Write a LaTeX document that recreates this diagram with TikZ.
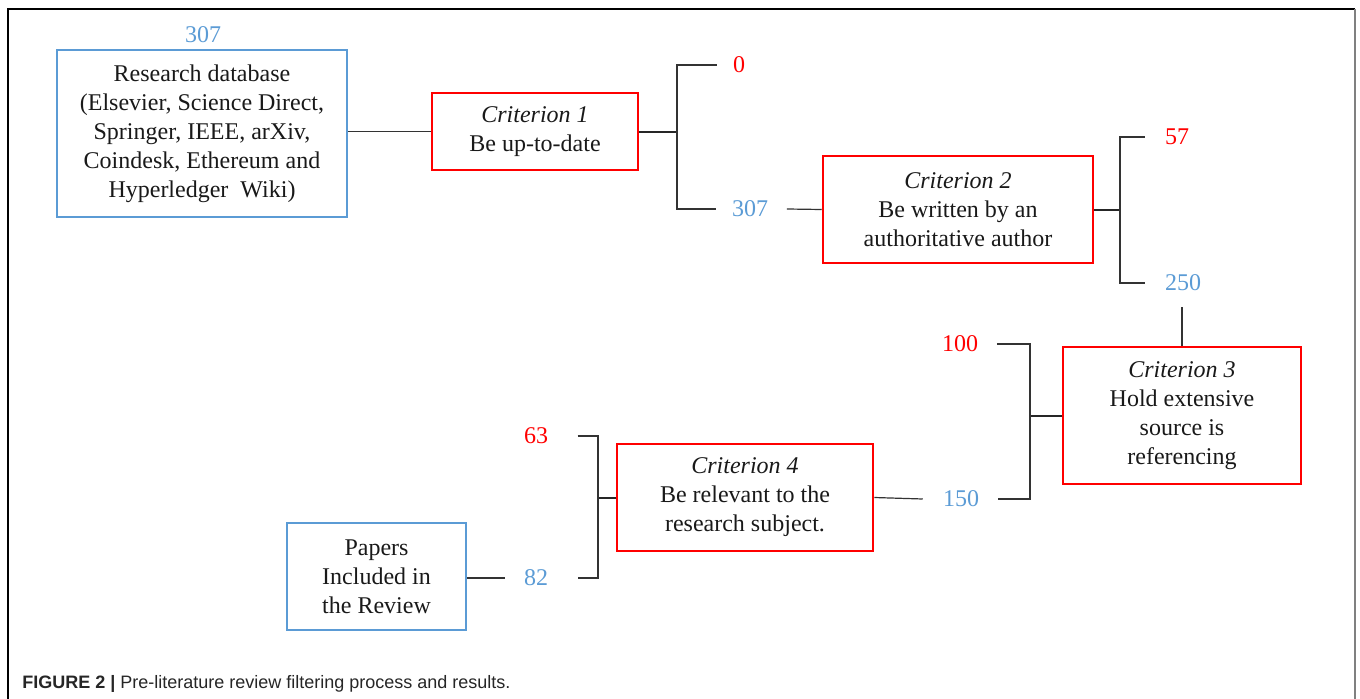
\documentclass[tikz,border=0pt]{standalone}
\usepackage{fontspec}
\setmainfont{Liberation Serif}
\newfontfamily\capfont{Liberation Sans}
\usetikzlibrary{calc}
\definecolor{cblue}{RGB}{91,155,213}
\definecolor{cred}{RGB}{255,0,0}
\newcommand\mainfs{\fontsize{18}{21.75}\selectfont}
\tikzset{
 box/.style={draw, line width=1.9pt, inner sep=0pt, align=center, font=\mainfs, text=black!90},
 bluebox/.style={box, draw=cblue},
 redbox/.style={box, draw=cred},
 num/.style={inner sep=0pt, font=\mainfs},
 keep/.style={num, text=cblue},
 drop/.style={num, text=cred},
 conn/.style={line width=0.9pt, draw=black!80},
 stub/.style={line width=1.5pt, draw=black!85},
}
\begin{document}
\begin{tikzpicture}[x=0.75pt,y=-0.75pt]
\useasboundingbox (0,0) rectangle (1360,699);
% frame
\draw[line width=0.8pt, black] (8,699) -- (8,9) -- (1355,9);
\draw[line width=1.5pt, black!50] (1355,9) -- (1355,699);

% boxes
\node[bluebox, minimum width=217.5pt, minimum height=125.25pt] (db) at (202,133.5)
 {Research database\\(Elsevier, Science Direct,\\Springer, IEEE, arXiv,\\Coindesk, Ethereum and\\Hyperledger\ \ Wiki)};
\node[redbox, minimum width=154.5pt, minimum height=57.75pt] (c1) at (535,131.5)
 {\textit{Criterion 1}\\Be up-to-date};
\node[redbox, minimum width=202.5pt, minimum height=80.25pt] (c2) at (958,209.5)
 {\textit{Criterion 2}\\Be written by\ an\\authoritative author};
\node[redbox, minimum width=178.5pt, minimum height=102.75pt] (c3) at (1182,415.5)
 {\textit{Criterion 3}\\Hold extensive\\source is\\referencing};
\node[redbox, minimum width=192pt, minimum height=80.25pt] (c4) at (745,497.5)
 {\textit{Criterion 4}\\Be relevant\ to the\\research\ subject.};
\node[bluebox, minimum width=134.25pt, minimum height=80.25pt] (pap) at (376.5,576.5)
 {Papers\\Included in\\the Review};

% numbers
\node[keep] (n307a) at (203,35) {307};
\node[drop] (n0) at (739,65) {0};
\node[keep] (n307b) at (750,209) {307};
\node[drop] (n57) at (1177,137) {57};
\node[keep] (n250) at (1183,283) {250};
\node[drop] (n100) at (960,344) {100};
\node[keep] (n150) at (961,499) {150};
\node[drop] (n63) at (536,436) {63};
\node[keep] (n82) at (536,578) {82};

% junctions
\coordinate (j1) at (677,131.5);
\coordinate (j2) at (1120,209.5);
\coordinate (j3) at (1030,415.5);
\coordinate (j4) at (598,497.5);

% connectors
\draw[conn] (db.east |- c1.west) -- (c1.west);
\draw[stub] (c1.east) -- (j1);
\draw[conn] ([xshift=-12pt]n0.west) -| (j1) |- ([xshift=-12pt]n307b.west);
\draw[conn] ([xshift=14pt]n307b.east) -- (c2.west);
\draw[stub] (c2.east) -- (j2);
\draw[conn] ([xshift=-15pt]n57.west) -| (j2) |- ([xshift=-15pt]n250.west);
\draw[conn] ([yshift=-12pt]n250.south -| c3.north) -- (c3.north);
\draw[stub] (c3.west) -- (j3);
\draw[conn] ([xshift=14pt]n100.east) -| (j3) |- ([xshift=14pt]n150.east);
\draw[conn] (c4.east) -- ([xshift=-15pt]n150.west);
\draw[stub] (c4.west) -- (j4);
\draw[conn] ([xshift=22pt]n63.east) -| (j4) |- ([xshift=22pt]n82.east);
\draw[conn] (pap.east |- n82.west) -- ([xshift=-14pt]n82.west);

% caption
\node[anchor=base west, inner sep=0pt, font=\capfont\fontsize{13.5}{15}\selectfont, text=black!85] (cap) at (22,688)
 {\textbf{FIGURE 2 |} Pre-literature review filtering process and results.};
\end{tikzpicture}
\end{document}
